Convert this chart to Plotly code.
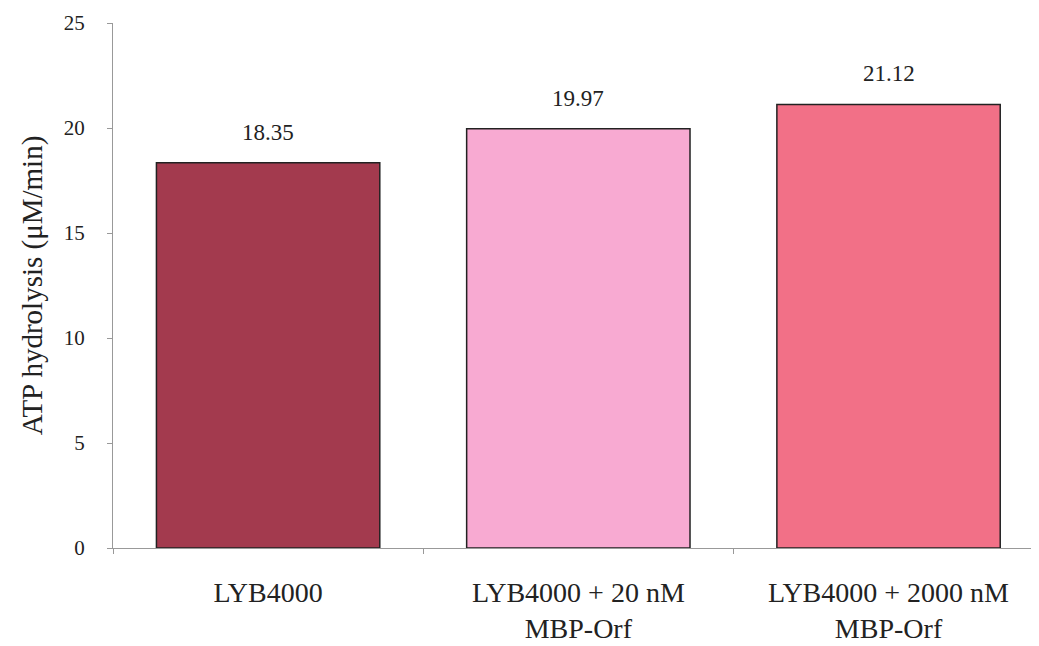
import plotly.graph_objects as go

categories = ["LYB4000", "LYB4000 + 20 nM<br>MBP-Orf", "LYB4000 + 2000 nM<br>MBP-Orf"]
values = [18.35, 19.97, 21.12]
labels = ["18.35", "19.97", "21.12"]
colors = ["#A33A4E", "#F8AAD2", "#F27087"]

font_family = "Liberation Serif, Times New Roman, serif"

fig = go.Figure()
fig.add_trace(go.Bar(
    x=categories, y=values,
    marker=dict(color=colors, line=dict(color="#222222", width=1.5)),
    width=0.72,
))
for c, v, t in zip(categories, values, labels):
    fig.add_annotation(x=c, y=v, text=t, showarrow=False, yanchor="bottom", yshift=16,
                       font=dict(family=font_family, size=23, color="#222222"))

fig.update_layout(
    width=1031, height=638,
    margin=dict(l=105, r=0, t=15, b=98),
    paper_bgcolor="white", plot_bgcolor="white",
    showlegend=False,
    font=dict(family=font_family, size=20, color="#222222"),
)
fig.update_yaxes(
    range=[0, 25], tickvals=[0, 5, 10, 15, 20, 25],
    showgrid=False, zeroline=False,
    showline=True, linecolor="#999999", linewidth=1,
    ticks="outside", ticklen=5, tickcolor="#999999",
    ticklabelstandoff=18,
    title=dict(text="ATP hydrolysis (μM/min)", font=dict(size=29), standoff=12),
    tickfont=dict(size=21),
)
fig.update_xaxes(
    range=[-0.5, 2.485],
    showline=True, linecolor="#999999", linewidth=1,
    ticks="outside", ticklen=5, tickcolor="#999999", tickson="boundaries",
    ticklabelstandoff=19,
    showgrid=False, tickfont=dict(size=28),
)
fig.write_html("out.html")
